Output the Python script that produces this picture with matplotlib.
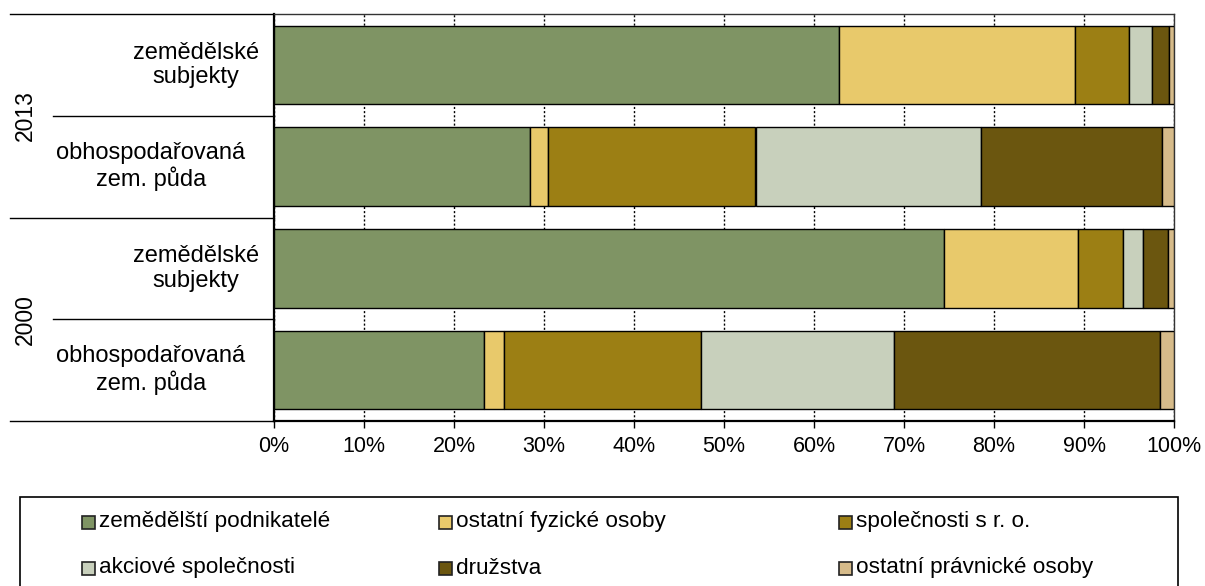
import matplotlib.pyplot as plt
from matplotlib.patches import Rectangle
from matplotlib.transforms import blended_transform_factory

plt.rcParams['font.family'] = ['Liberation Sans', 'DejaVu Sans']

# categories from bottom to top
years = ['2000', '2013']
categories = ['obhospodařovaná\nzem. půda', 'zemědělské\nsubjekty',
              'obhospodařovaná\nzem. půda', 'zemědělské\nsubjekty']

series_names = ['zemědělští podnikatelé', 'ostatní fyzické osoby', 'společnosti s r. o.',
                'akciové společnosti', 'družstva', 'ostatní právnické osoby']
colors = ['#7F9464', '#E8C96B', '#9C7F14', '#C8D0BC', '#6B560F', '#D6BB8A']

# shares in %, order = categories (2000 půda, 2000 subjekty, 2013 půda, 2013 subjekty)
zem_podnikatele = [23.3, 74.4, 28.4, 62.8]
ostatni_fyzicke = [2.3, 14.9, 2.0, 26.2]
spolecnosti_sro = [21.8, 5.0, 23.1, 6.0]
akciove = [21.5, 2.3, 25.0, 2.5]
druzstva = [29.5, 2.7, 20.2, 1.9]
ostatni_pravnicke = [1.6, 0.7, 1.3, 0.6]
values = [zem_podnikatele, ostatni_fyzicke, spolecnosti_sro, akciove, druzstva, ostatni_pravnicke]

W, H = 1205, 586
fig = plt.figure(figsize=(W / 100, H / 100), dpi=100)
ax = fig.add_axes([274 / W, (H - 421) / H, 900 / W, 407 / H])

ypos = list(range(len(categories)))
left = [0.0] * len(categories)
for name, vals, col in zip(series_names, values, colors):
    ax.barh(ypos, vals, left=left, height=0.77, color=col, edgecolor='black',
            linewidth=1, label=name, zorder=3)
    left = [l + v for l, v in zip(left, vals)]

ax.set_xlim(0, 100)
ax.set_ylim(-0.5, 3.5)
ax.set_xticks(range(0, 101, 10))
ax.set_xticklabels([f'{t}%' for t in range(0, 101, 10)], fontsize=15.5)
ax.set_yticks([])
ax.tick_params(axis='x', direction='out', length=5, width=1, pad=6)
ax.xaxis.grid(True, linestyle=(0, (1.5, 1.5)), color='black', linewidth=1, zorder=0)
for s in ['top', 'right']:
    ax.spines[s].set_color('#333333')
    ax.spines[s].set_linewidth(1)
ax.spines['bottom'].set_linewidth(1.6)
ax.spines['left'].set_linewidth(1.6)

# multi-level category axis on the left
tr = blended_transform_factory(ax.transAxes, ax.transData)
for y, x0 in [(-0.5, -0.2933), (0.5, -0.2456), (1.5, -0.2933), (2.5, -0.2456), (3.5, -0.2933)]:
    ax.plot([x0, 0], [y, y], color='black', linewidth=1, transform=tr, clip_on=False)
for i, lab in enumerate(categories):
    xc = -0.0867 if 'subjekty' in lab else -0.1367
    ax.text(xc, i, lab, transform=tr, ha='center', va='center', fontsize=17,
            linespacing=1.15)
for j, yr in enumerate(years):
    ax.text(-0.2767, 2 * j + 0.5, yr, transform=tr, ha='center', va='center',
            rotation=90, fontsize=16.5)

# legend box
fig.patches.append(Rectangle((20 / W, -0.1), 1158 / W, 0.1 + (H - 497) / H,
                             transform=fig.transFigure, fill=False,
                             edgecolor='black', linewidth=1.2))
col_x = [82, 439, 839]
row_y = [522, 568]
for k, (name, col) in enumerate(zip(series_names, colors)):
    cx = col_x[k % 3]
    cy = row_y[k // 3]
    fig.patches.append(Rectangle((cx / W, (H - cy - 7) / H), 13 / W, 13 / H,
                                 transform=fig.transFigure, facecolor=col,
                                 edgecolor='#222222', linewidth=1.2))
    fig.text((cx + 17) / W, (H - cy) / H, name, ha='left', va='center', fontsize=16.2)

fig.savefig('out.png', dpi=100)
